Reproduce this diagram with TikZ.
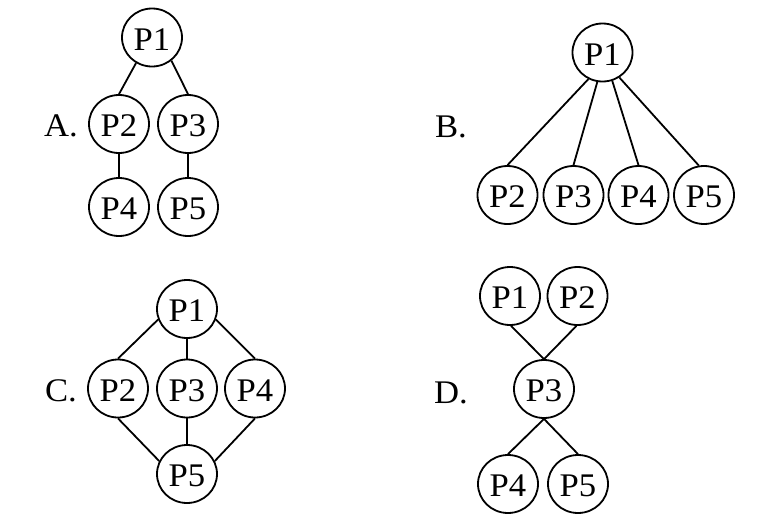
\documentclass[tikz,border=0pt]{standalone}
\usepackage{fontspec}
\setmainfont[FakeStretch=1.05]{Liberation Serif}
\usetikzlibrary{shapes.geometric}
\begin{document}
\begin{tikzpicture}[x=1pt,y=-1pt,
  pnode/.style={ellipse, draw, line width=1.8pt, minimum width=60pt, minimum height=58pt, inner sep=0pt,
    font=\fontsize{33}{33}\selectfont, text height=25pt, text depth=0pt},
  lbl/.style={font=\fontsize{33}{33}\selectfont, inner sep=0pt},
  link/.style={line width=1.8pt}]
\useasboundingbox (0,0) rectangle (763,528);
% A
\node[lbl] (la) at (61,126) {A.};
\node[pnode] (a1) at (152,37.5) {P1};
\node[pnode] (a2) at (119,124) {P2};
\node[pnode] (a3) at (188,124) {P3};
\node[pnode] (a4) at (119,207) {P4};
\node[pnode] (a5) at (188,207) {P5};
\draw[link] (a1.-122) -- (a2.north);
\draw[link] (a1.-50) -- (a3.north);
\draw[link] (a2) -- (a4);
\draw[link] (a3) -- (a5);
% B
\node[lbl] (lb) at (451,127) {B.};
\node[pnode] (b1) at (602.5,52.5) {P1};
\node[pnode] (b2) at (507.5,195) {P2};
\node[pnode] (b3) at (573.5,195) {P3};
\node[pnode] (b4) at (638.5,195) {P4};
\node[pnode] (b5) at (704,195) {P5};
\draw[link] (b1.-118) -- (b2.north);
\draw[link] (b1.-100) -- (b3.north);
\draw[link] (b1.-71) -- (b4.north);
\draw[link] (b1.-56) -- (b5.100);
% C
\node[lbl] (lc) at (61,391) {C.};
\node[pnode] (c1) at (187,309) {P1};
\node[pnode] (c2) at (118,388.5) {P2};
\node[pnode] (c3) at (187,388.5) {P3};
\node[pnode] (c4) at (255,388.5) {P4};
\node[pnode] (c5) at (187,474) {P5};
\draw[link] (c1.-160) -- (c2.north);
\draw[link] (c1.-20) -- (c4.north);
\draw[link] (c1) -- (c3);
\draw[link] (c2.south) -- (c5.155);
\draw[link] (c4.south) -- (c5.25);
\draw[link] (c3) -- (c5);
% D
\node[lbl] (ld) at (451,393) {D.};
\node[pnode] (d1) at (510,296) {P1};
\node[pnode] (d2) at (577.5,296) {P2};
\node[pnode] (d3) at (544,389) {P3};
\node[pnode] (d4) at (508,484) {P4};
\node[pnode] (d5) at (578,484) {P5};
\draw[link] (d1.-88) -- (d3.north);
\draw[link] (d2.-92) -- (d3.north);
\draw[link] (d3.south) -- (d4.north);
\draw[link] (d3.south) -- (d5.north);
\end{tikzpicture}
\end{document}
